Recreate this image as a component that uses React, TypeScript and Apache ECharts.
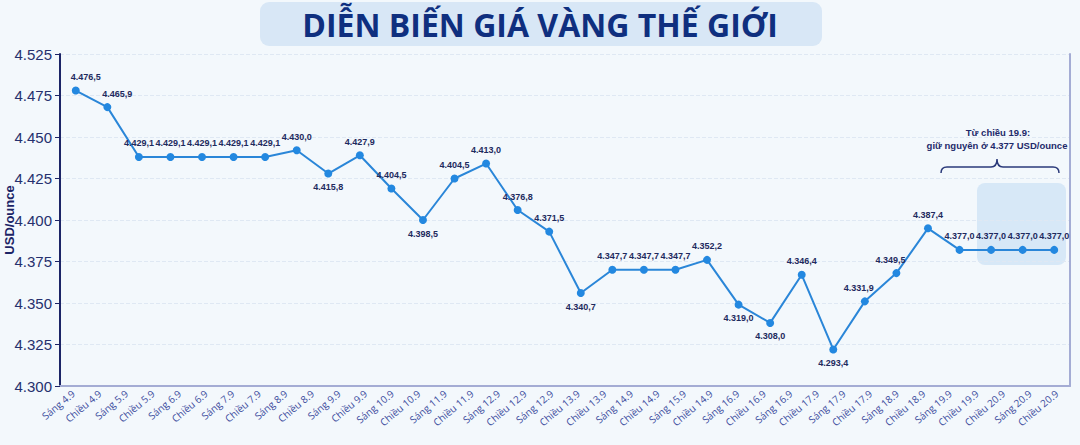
import * as echarts from 'echarts';
import { useEffect, useRef } from 'react';

// printed x-axis tick labels (as they appear, typos included)
const xTickLabels = [
  'Sáng 4.9', 'Chiều 4.9', 'Sáng 5.9', 'Chiều 5.9', 'Sáng 6.9', 'Chiều 6.9',
  'Sáng 7.9', 'Chiều 7.9', 'Sáng 8.9', 'Chiều 8.9', 'Sáng 9.9', 'Chiều 9.9',
  'Sáng 10.9', 'Chiều 10.9', 'Sáng 11.9', 'Chiều 11.9', 'Sáng 12.9', 'Chiều 12.9',
  'Sáng 12.9', 'Chiều 13.9', 'Chiều 13.9', 'Sáng 14.9', 'Chiều 14.9', 'Sáng 15.9',
  'Chiều 14.9', 'Sáng 16.9', 'Chiều 16.9', 'Sáng 16.9', 'Chiều 17.9', 'Sáng 17.9',
  'Chiều 17.9', 'Sáng 18.9', 'Chiều 18.9', 'Sáng 19.9', 'Chiều 19.9', 'Chiều 20.9',
  'Sáng 20.9', 'Chiều 20.9',
];

// y tick labels as printed (the top one reads 4.525)
const yTickLabels = ['4.300', '4.325', '4.350', '4.375', '4.400', '4.425', '4.450', '4.475', '4.525'];

// printed price labels (USD/ounce)
const priceLabels = [
  4476.5, 4465.9, 4429.1, 4429.1, 4429.1, 4429.1, 4429.1, 4430.0, 4415.8, 4427.9,
  4404.5, 4398.5, 4404.5, 4413.0, 4376.8, 4371.5, 4340.7, 4347.7, 4347.7, 4347.7,
  4352.2, 4319.0, 4308.0, 4346.4, 4293.4, 4331.9, 4349.5, 4387.4, 4377.0, 4377.0,
  4377.0, 4377.0,
];

// where the points sit on the drawn axis
const plottedPrice = [
  4478, 4468, 4438, 4438, 4438, 4438, 4438, 4442, 4428, 4439,
  4419, 4400, 4425, 4434, 4406, 4393, 4356, 4370, 4370, 4370,
  4376, 4349, 4338, 4367, 4322, 4351, 4368, 4395, 4382, 4382,
  4382, 4382,
];

const labelsBelow = new Set([8, 11, 16, 21, 22, 24]);

const NAVY = '#1c2466';

const fmtVN = (v: number) => {
  const [i, d] = v.toFixed(1).split('.');
  return i.slice(0, -3) + '.' + i.slice(-3) + ',' + d;
};

echarts.graphic.registerShape(
  'brace',
  echarts.graphic.extendPath(
    'M0,14 Q0,8 6,8 L50,8 Q56,8 56,0 Q56,8 62,8 L112,8 Q118,8 118,14',
    {}
  )
);

const App = () => {
  const chartRef = useRef<HTMLDivElement>(null);

  useEffect(() => {
    if (chartRef.current === null) return;
    const chart = echarts.init(chartRef.current, null, { renderer: 'svg' });

    chart.setOption({
      animation: false,
      backgroundColor: '#f3f8fc',
      title: {
        text: 'DIỄN BIẾN GIÁ VÀNG THẾ GIỚI',
        left: 'center',
        top: 3,
        textStyle: {
          fontFamily: 'Open Sans',
          fontWeight: 'bold',
          fontSize: 32,
          color: '#0f2f7f',
        },
      },
      grid: {
        left: 60,
        right: 10,
        top: 54,
        bottom: 59,
        containLabel: false,
        outerBoundsMode: 'none',
      },
      xAxis: [
        {
          type: 'category',
          show: false,
          boundaryGap: true,
          data: plottedPrice.map((_, i) => String(i)),
        },
        {
          type: 'category',
          position: 'bottom',
          boundaryGap: true,
          data: xTickLabels,
          axisLine: { lineStyle: { color: '#a4acd4', width: 2 } },
          axisTick: { show: false },
          axisLabel: {
            interval: 0,
            rotate: 40,
            margin: 6,
            fontFamily: 'Open Sans',
            fontSize: 10,
            color: '#3d4d9e',
          },
        },
      ],
      yAxis: [
        {
          type: 'value',
          min: 4300,
          max: 4500,
          interval: 25,
          name: 'USD/ounce',
          nameLocation: 'middle',
          nameGap: 44,
          nameMoveOverlap: false,
          nameTextStyle: {
            fontFamily: 'Liberation Sans',
            fontWeight: 'bold',
            fontSize: 13,
            color: NAVY,
          },
          axisLine: { show: true, lineStyle: { color: NAVY, width: 2 } },
          axisTick: { show: true, length: 5, lineStyle: { color: NAVY } },
          axisLabel: {
            margin: 8,
            fontFamily: 'Liberation Sans',
            fontSize: 15,
            color: '#26306e',
            formatter: (v: number) => yTickLabels[Math.round((v - 4300) / 25)] ?? '',
          },
          splitLine: { lineStyle: { color: '#dfe8f3', type: 'dashed' } },
        },
        {
          type: 'value',
          position: 'right',
          min: 4300,
          max: 4500,
          interval: 25,
          axisLine: { show: true, lineStyle: { color: '#a4acd4', width: 2 } },
          axisTick: { show: false },
          axisLabel: { show: false },
          splitLine: { show: false },
        },
      ],
      graphic: [
        {
          type: 'rect',
          z: -1,
          shape: { x: 260, y: 2, width: 562, height: 44, r: 9 },
          style: { fill: '#d8e7f6' },
        },
        {
          type: 'rect',
          z: -1,
          shape: { x: 977, y: 183, width: 89, height: 82, r: 8 },
          style: { fill: 'rgba(200,222,245,0.65)' },
        },
        {
          type: 'text',
          x: 998,
          y: 132,
          style: {
            text: 'Từ chiều 19.9:',
            align: 'center',
            verticalAlign: 'middle',
            fontFamily: 'Liberation Sans',
            fontWeight: 'bold',
            fontSize: 9.5,
            fill: '#1e2a6a',
          },
        },
        {
          type: 'text',
          x: 997,
          y: 145,
          style: {
            text: 'giữ nguyên ở 4.377 USD/ounce',
            align: 'center',
            verticalAlign: 'middle',
            fontFamily: 'Liberation Sans',
            fontWeight: 'bold',
            fontSize: 9.5,
            fill: '#1e2a6a',
          },
        },
        {
          type: 'brace',
          x: 941,
          y: 159,
          style: { fill: 'none', stroke: '#2b3a7a', lineWidth: 1.5 },
        },
      ],
      series: [
        {
          type: 'line',
          xAxisIndex: 0,
          yAxisIndex: 0,
          symbol: 'circle',
          symbolSize: 8,
          itemStyle: { color: '#2388e0' },
          lineStyle: { color: '#2a86d8', width: 2 },
          label: {
            show: true,
            distance: 5,
            fontFamily: 'Liberation Sans',
            fontWeight: 'bold',
            fontSize: 9,
            color: '#1e2a5e',
            formatter: (p: { dataIndex: number }) => fmtVN(priceLabels[p.dataIndex]),
          },
          data: plottedPrice.map((v, i) => ({
            value: v,
            label: {
              position: labelsBelow.has(i) ? 'bottom' : 'top',
              offset: i < 2 ? [10, 0] : i === 25 || i === 26 ? [-6, 0] : [0, 0],
            },
          })),
        },
      ],
    });

    return () => {
      chart.dispose();
    };
  }, []);

  return (
    <div
      ref={chartRef}
      style={{ position: 'fixed', left: 0, top: 0, width: 1080, height: 445 }}
    ></div>
  );
};

export default App;
